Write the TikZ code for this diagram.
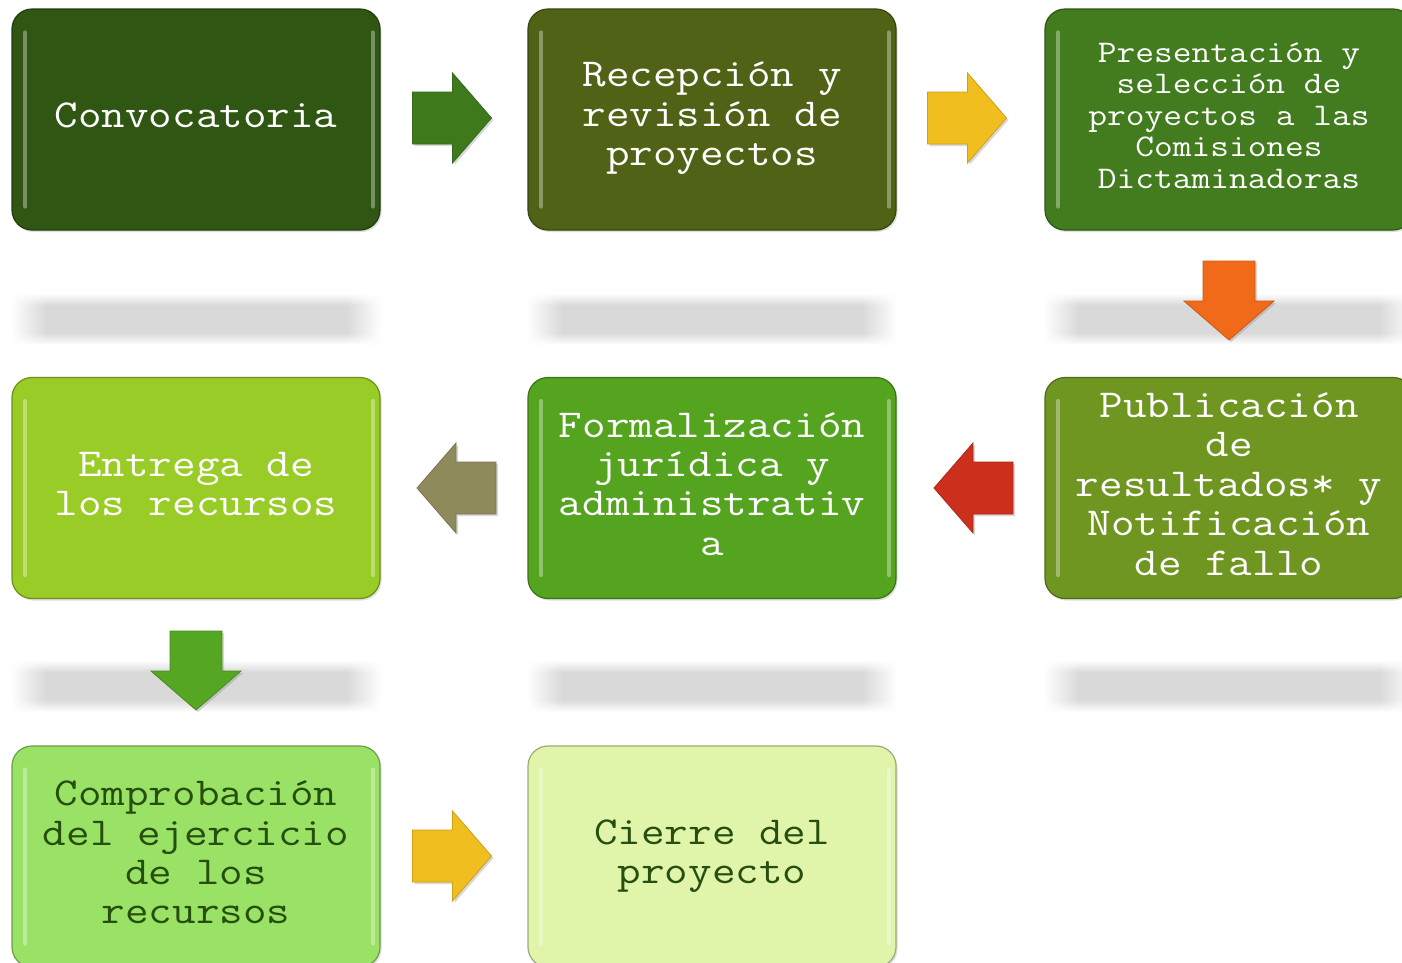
\documentclass[tikz,border=0pt]{standalone}
\usepackage{fontspec}
\newfontfamily\cour[FakeStretch=1.155]{Latin Modern Mono}
\usetikzlibrary{shadows,fadings}
\definecolor{cA}{RGB}{47,86,19}
\definecolor{cB}{RGB}{79,98,21}
\definecolor{cC}{RGB}{66,124,30}
\definecolor{cD}{RGB}{112,150,34}
\definecolor{cE}{RGB}{84,164,32}
\definecolor{cF}{RGB}{154,204,40}
\definecolor{cG}{RGB}{153,226,102}
\definecolor{cH}{RGB}{224,245,170}
\definecolor{darktxt}{RGB}{38,78,14}
\definecolor{aGreen}{RGB}{62,122,28}
\definecolor{aYellow}{RGB}{240,190,30}
\definecolor{aOrange}{RGB}{240,106,26}
\definecolor{aRed}{RGB}{204,47,28}
\definecolor{aKhaki}{RGB}{143,138,92}
\definecolor{aGreenB}{RGB}{85,166,35}
\pgfdeclareverticalshading{reflsh}{100bp}{color(0bp)=(white); color(25bp)=(white); color(37bp)=(black!15); color(63bp)=(black!15); color(75bp)=(white); color(100bp)=(white)}
\tikzfading[name=fadeL, left color=transparent!100, right color=transparent!0]
\tikzfading[name=fadeR, left color=transparent!0, right color=transparent!100]
\tikzset{
  box/.style={rectangle, rounded corners=20pt, minimum width=368pt, minimum height=221pt,
    inner sep=0pt, fill=#1, draw=#1!70!black, line width=1.2pt,
    drop shadow={opacity=0.25, shadow xshift=1.5pt, shadow yshift=-2pt}},
  big/.style={font=\cour\fontsize{39.6}{39.4}\selectfont, align=center, inner sep=0pt},
  small/.style={font=\cour\fontsize{31.5}{31.6}\selectfont, align=center, inner sep=0pt},
  hl/.style={line width=4pt, line cap=round, white, opacity=0.35},
  barrow/.style={fill=#1, draw=#1!85!black, line width=0.8pt,
    drop shadow={opacity=0.3, shadow xshift=2pt, shadow yshift=-2pt}}
}
\newcommand\blockarr[4]{%
  \path[barrow=#4, shift={(#1,#2)}, rotate=#3]
    (-40,-26) -- (0,-26) -- (0,-45) -- (39,0) -- (0,45) -- (0,26) -- (-40,26) -- cycle;}
\newcommand\reflbar[2]{%
  \shade[shading=reflsh] ({#1-150},{#2-26}) rectangle ({#1+150},{#2+26});
  \shade[shading=reflsh, path fading=fadeL] ({#1-185},{#2-26}) rectangle ({#1-149.5},{#2+26});
  \shade[shading=reflsh, path fading=fadeR] ({#1+149.5},{#2-26}) rectangle ({#1+185},{#2+26});}
\newcommand\boxhl[1]{%
  \draw[hl] ([xshift=14pt,yshift=-24pt]#1.north west) -- ([xshift=14pt,yshift=24pt]#1.south west);
  \draw[hl] ([xshift=-8pt,yshift=-24pt]#1.north east) -- ([xshift=-8pt,yshift=24pt]#1.south east);}
\begin{document}
\begin{tikzpicture}[x=1pt,y=-1pt]
\path[use as bounding box, clip] (0,0) rectangle (1402,962);
\fill[white] (0,0) rectangle (1402,962);
% reflections
\reflbar{196}{319}
\reflbar{712}{319}
\reflbar{1229}{319}
\reflbar{196}{686}
\reflbar{712}{686}
\reflbar{1229}{686}
% boxes
\node[box=cA] (b1) at (196,119.5) {};
\node[box=cB] (b2) at (712,119.5) {};
\node[box=cC] (b3) at (1229,119.5) {};
\node[box=cD] (b4) at (1229,488) {};
\node[box=cE] (b5) at (712,488) {};
\node[box=cF] (b6) at (196,488) {};
\node[box=cG] (b7) at (196,856.5) {};
\node[box=cH] (b8) at (712,856.5) {};
\boxhl{b1}\boxhl{b2}\boxhl{b3}\boxhl{b4}\boxhl{b5}\boxhl{b6}\boxhl{b7}\boxhl{b8}
% texts
\node[big, text=white] (t1) at ([yshift=4pt]b1.center) {Convocatoria};
\node[big, text=white] (t2) at ([yshift=1pt]b2.center) {Recepción y\\revisión de\\proyectos};
\node[small, text=white] (t3) at ([yshift=4pt]b3.center) {Presentación y\\selección de\\proyectos a las\\Comisiones\\Dictaminadoras};
\node[big, text=white] (t4) at ([yshift=4pt]b4.center) {Publicación\\de\\resultados* y\\Notificación\\de fallo};
\node[big, text=white] (t5) at ([yshift=4pt]b5.center) {Formalización\\jurídica y\\administrativ\\a};
\node[big, text=white] (t6) at ([yshift=4pt]b6.center) {Entrega de\\los recursos};
\node[big, text=darktxt] (t7) at ([yshift=4pt]b7.center) {Comprobación\\del ejercicio\\de los\\recursos};
\node[big, text=darktxt] (t8) at ([yshift=0.5pt]b8.center) {Cierre del\\proyecto};
% block arrows
\blockarr{452.5}{118}{0}{aGreen}
\blockarr{967.5}{118}{0}{aYellow}
\blockarr{1229}{301}{-90}{aOrange}
\blockarr{973}{488}{180}{aRed}
\blockarr{456}{488}{180}{aKhaki}
\blockarr{196}{671}{-90}{aGreenB}
\blockarr{452.5}{856}{0}{aYellow}
\end{tikzpicture}
\end{document}
